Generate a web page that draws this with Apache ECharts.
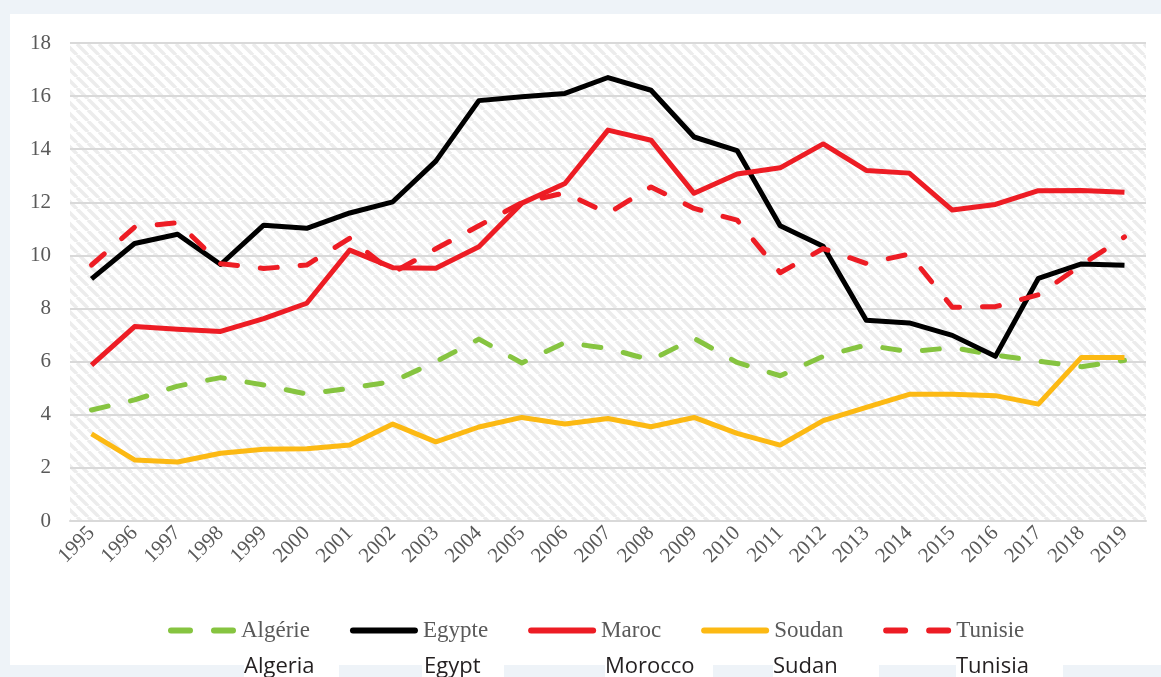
<!DOCTYPE html>
<html>
<head>
<meta charset="utf-8">
<script src="https://cdn.jsdelivr.net/npm/echarts@6/dist/echarts.min.js"></script>
<style>
  html, body { margin: 0; padding: 0; background: #eef3f8; }
  #chart { width: 1161px; height: 677px; }
</style>
</head>
<body>
<div id="chart"></div>
<script>
// ---- data ----
const years = ['1995','1996','1997','1998','1999','2000','2001','2002','2003','2004','2005','2006','2007','2008','2009','2010','2011','2012','2013','2014','2015','2016','2017','2018','2019'];
const seriesNames = ['Algérie', 'Egypte', 'Maroc', 'Soudan', 'Tunisie'];
const englishNames = ['Algeria', 'Egypt', 'Morocco', 'Sudan', 'Tunisia'];
const algerie = [4.18, 4.56, 5.08, 5.40, 5.12, 4.78, 5.00, 5.25, 6.00, 6.85, 5.95, 6.72, 6.50, 6.06, 6.88, 5.97, 5.47, 6.20, 6.63, 6.37, 6.53, 6.25, 6.02, 5.81, 6.05];
const egypte  = [9.12, 10.45, 10.80, 9.66, 11.14, 11.02, 11.60, 12.02, 13.55, 15.83, 15.98, 16.10, 16.70, 16.22, 14.46, 13.95, 11.12, 10.35, 7.56, 7.46, 6.99, 6.20, 9.14, 9.68, 9.63];
const maroc   = [5.87, 7.32, 7.22, 7.14, 7.62, 8.20, 10.20, 9.54, 9.52, 10.33, 11.97, 12.71, 14.72, 14.34, 12.34, 13.07, 13.30, 14.20, 13.20, 13.10, 11.71, 11.92, 12.44, 12.45, 12.38];
const soudan  = [3.28, 2.30, 2.22, 2.55, 2.70, 2.72, 2.86, 3.65, 2.98, 3.54, 3.90, 3.65, 3.86, 3.55, 3.90, 3.30, 2.86, 3.78, 4.28, 4.77, 4.77, 4.72, 4.40, 6.16, 6.16];
const tunisie = [9.64, 11.06, 11.24, 9.69, 9.51, 9.64, 10.65, 9.35, 10.25, 11.12, 11.99, 12.36, 11.58, 12.58, 11.77, 11.33, 9.35, 10.26, 9.70, 10.05, 8.05, 8.07, 8.52, 9.64, 10.70];
const yTicks = { min: 0, max: 18, interval: 2 };

// ---- styling ----
const colors = ['#86c440', '#000000', '#ed1c24', '#fcb913', '#ed1c24'];
const dashed = [true, false, false, false, true];
const values = [algerie, egypte, maroc, soudan, tunisie];
const solidIcon = 'path://M3,0h62a3,3 0 0 1 0,6h-62a3,3 0 0 1 0,-6z';
const dashIcon = 'path://M3,0h19a3,3 0 0 1 0,6h-19a3,3 0 0 1 0,-6z M46,0h19a3,3 0 0 1 0,6h-19a3,3 0 0 1 0,-6z';

// hatch pattern
const tile = document.createElement('canvas');
const S = 11;
tile.width = S; tile.height = S;
const ctx = tile.getContext('2d');
ctx.fillStyle = '#ffffff';
ctx.fillRect(0, 0, S, S);
ctx.strokeStyle = '#ececec';
ctx.lineWidth = 3.5;
for (const off of [-S, 0, S]) {
  ctx.beginPath();
  ctx.moveTo(off, 0);
  ctx.lineTo(off + S, S);
  ctx.stroke();
}

const chart = echarts.init(document.getElementById('chart'), null, { renderer: 'canvas' });

const series = seriesNames.map((name, i) => ({
  name: name,
  type: 'line',
  data: values[i],
  symbol: 'none',
  smooth: false,
  lineStyle: {
    color: colors[i],
    width: 5,
    type: dashed[i] ? [17, 23] : 'solid',
    cap: dashed[i] ? 'round' : 'butt',
    join: 'round'
  },
  itemStyle: { color: colors[i] }
}));

// English label boxes (behind) and texts
const engPos = [
  { box: [244, 339], tx: 244 },
  { box: [422, 504], tx: 424 },
  { box: [605, 713], tx: 605 },
  { box: [773, 879], tx: 773 },
  { box: [956, 1063], tx: 956 }
];
const graphics = [
  { type: 'rect', z: -10, shape: { x: 10, y: 14, width: 1151, height: 651 }, style: { fill: '#ffffff' } }
];
englishNames.forEach((n, i) => {
  const p = engPos[i];
  graphics.push({ type: 'rect', z: -10, shape: { x: p.box[0], y: 665, width: p.box[1] - p.box[0], height: 12 }, style: { fill: '#ffffff' } });
  graphics.push({ type: 'text', z: 10, left: p.tx, top: 656, style: { text: n, fill: '#231f20', font: '22px "Open Sans", "Noto Sans", sans-serif' } });
});

chart.setOption({
  backgroundColor: '#eef3f8',
  animation: false,
  graphic: graphics,
  grid: {
    left: 70, right: 15, top: 43, bottom: 156,
    show: true,
    borderWidth: 0,
    backgroundColor: { image: tile, repeat: 'repeat' }
  },
  legend: {
    data: seriesNames.map((n, i) => ({ name: n, icon: dashed[i] ? dashIcon : solidIcon })),
    left: 163,
    top: 614,
    itemWidth: 68,
    itemHeight: 6,
    itemGap: 40,
    symbolKeepAspect: false,
    textStyle: { fontFamily: '"Liberation Serif", serif', fontSize: 23, color: '#595959' }
  },
  xAxis: {
    type: 'category',
    data: years,
    boundaryGap: true,
    axisLine: { lineStyle: { color: '#d9d9d9', width: 2 } },
    axisTick: { show: false },
    axisLabel: {
      interval: 0,
      rotate: 45,
      margin: 9,
      fontFamily: '"Liberation Serif", serif',
      fontSize: 21,
      color: '#595959'
    }
  },
  yAxis: {
    type: 'value',
    min: yTicks.min,
    max: yTicks.max,
    interval: yTicks.interval,
    axisLine: { show: false },
    axisTick: { show: false },
    splitLine: { lineStyle: { color: '#d9d9d9', width: 2 } },
    axisLabel: {
      margin: 19,
      fontFamily: '"Liberation Serif", serif',
      fontSize: 21,
      color: '#595959'
    }
  },
  series: series
});
</script>
</body>
</html>
